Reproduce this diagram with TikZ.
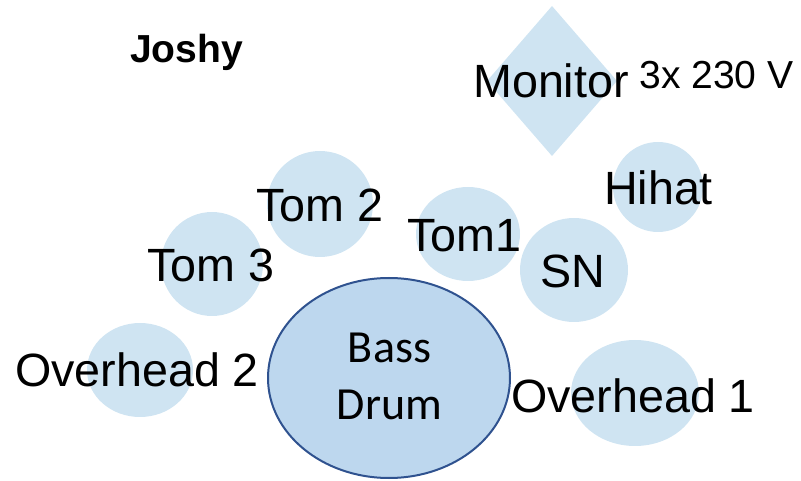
\documentclass[tikz,border=0pt]{standalone}
\usepackage{fontspec}
\setmainfont{Liberation Sans}
\newfontfamily\calibrifont{Carlito}
\definecolor{padblue}{RGB}{207,228,242}
\definecolor{kickfill}{RGB}{189,215,238}
\definecolor{kickline}{RGB}{47,82,143}

\tikzset{every picture/.style={line width=0.75pt}}
\tikzset{
  pad/.style={fill=padblue, draw=none},
  lbl/.style={anchor=base, inner sep=0pt, font=\fontsize{35}{41}\selectfont},
  smalllbl/.style={anchor=base, inner sep=0pt, font=\fontsize{29.3}{35}\selectfont}
}

\begin{document}
\begin{tikzpicture}[x=0.75pt,y=0.75pt,yscale=-1,xscale=1]
\useasboundingbox (0,0) rectangle (801,481);

%Shape: Diamond
\fill [padblue] (552,6) -- (617,81) -- (552,156) -- (487,81) -- cycle ;
%Shape: Circle
\fill [pad] (320,204) ellipse (53 and 53) ;
%Shape: Circle
\fill [pad] (212,264) ellipse (51 and 52) ;
%Shape: Circle
\fill [pad] (468,234) ellipse (52 and 47) ;
%Shape: Circle
\fill [pad] (574,270) ellipse (54 and 52) ;
%Shape: Circle
\fill [pad] (658,187) ellipse (45 and 45) ;
%Shape: Circle
\fill [pad] (140,370) ellipse (53 and 47) ;
%Shape: Circle
\fill [pad] (635,393) ellipse (64 and 53) ;
%Shape: Ellipse
\draw [color=kickline, fill=kickfill, line width=1.5] (389,378) ellipse (121 and 100) ;

% Text Node
\node (joshy) [smalllbl, font=\fontsize{29.3}{35}\selectfont\bfseries] at (186.5,63) {Joshy};
% Text Node
\node (monitor) [lbl] at (551,98) {Monitor};
% Text Node
\node (power) [smalllbl] at (716.5,89) {3x 230 V};
% Text Node
\node (tom2) [lbl] at (320,222) {Tom 2};
% Text Node
\node (tom3) [lbl] at (211,282) {Tom 3};
% Text Node
\node (tom1) [lbl] at (464.5,252) {Tom1};
% Text Node
\node (snare) [lbl] at (573,288) {SN};
% Text Node
\node (hihat) [lbl] at (658.5,205) {Hihat};
% Text Node
\node (oh2) [lbl] at (137,387) {Overhead 2};
% Text Node
\node (oh1) [lbl] at (633,412) {Overhead 1};
% Text Node
\node (bass) [anchor=base, inner sep=0pt, font=\calibrifont\fontsize{34.5}{40}\selectfont] at (389.5,363) {Bass};
% Text Node
\node (drum) [anchor=base, inner sep=0pt, font=\calibrifont\fontsize{34.5}{40}\selectfont] at (389.5,420) {Drum};

\end{tikzpicture}
\end{document}
